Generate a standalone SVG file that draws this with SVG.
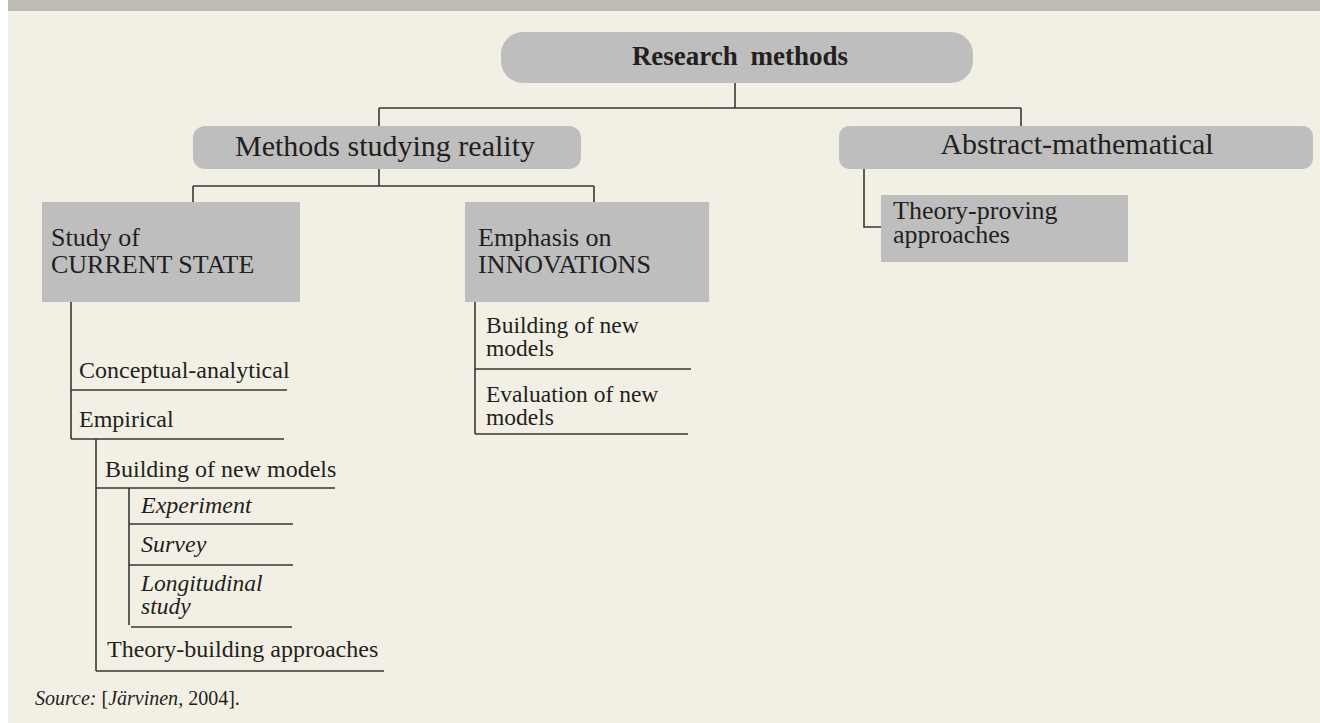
<svg xmlns="http://www.w3.org/2000/svg" width="1320" height="723" viewBox="0 0 1320 723">
<style>
.box{fill:#BEBEBE}
.ln{stroke:#3a3734;stroke-width:1.6;fill:none}
.t{font-family:"Liberation Serif","Times New Roman",serif;fill:#231F20}
.b{font-weight:bold}
.i{font-style:italic}
</style>
<rect x="0" y="0" width="1320" height="723" fill="#FFFFFF"/>
<rect x="8" y="0" width="1312" height="723" fill="#F2EFE4"/>
<rect x="8" y="0" width="1312" height="11" fill="#BDBCB3"/>

<g id="connectors" class="ln">
<path d="M735 83V108M379 108H1021M379 108V126M1021 108V126"/>
<path d="M379 169V186M193 186H594M193 186V202M594 186V202"/>
<path d="M864 169V227H881"/>
<path d="M71 302V439M71 390H287M71 439H284"/>
<path d="M96 439V671M96 488H335M96 671H384"/>
<path d="M129 488V625M129 524H293M129 565H293M131 627H292"/>
<path d="M475 302V434M475 369H691M475 434H688"/>
</g>

<g id="research-methods">
<rect class="box" x="501" y="32" width="472" height="51" rx="22"/>
<text class="t b" x="740" y="65" font-size="27" text-anchor="middle" word-spacing="6">Research methods</text>
</g>
<g id="methods-studying-reality">
<rect class="box" x="193" y="126" width="388" height="43" rx="12"/>
<text class="t" x="385" y="156" font-size="30" text-anchor="middle">Methods studying reality</text>
</g>
<g id="abstract-mathematical">
<rect class="box" x="839" y="126" width="474" height="43" rx="10"/>
<text class="t" x="1077" y="154" font-size="30" text-anchor="middle">Abstract-mathematical</text>
</g>
<g id="theory-proving">
<rect class="box" x="881" y="195" width="247" height="67"/>
<text class="t" x="893" y="219" font-size="26">Theory-proving</text>
<text class="t" x="893" y="243" font-size="26">approaches</text>
</g>
<g id="study-current-state">
<rect class="box" x="42" y="202" width="258" height="100"/>
<text class="t" x="51" y="246" font-size="26">Study of</text>
<text class="t" x="51" y="273" font-size="26">CURRENT STATE</text>
</g>
<g id="emphasis-innovations">
<rect class="box" x="465" y="202" width="244" height="100"/>
<text class="t" x="478" y="246" font-size="26">Emphasis on</text>
<text class="t" x="478" y="273" font-size="26">INNOVATIONS</text>
</g>
<g id="innov-building">
<text class="t" x="486" y="333" font-size="23.5">Building of new</text>
<text class="t" x="486" y="356" font-size="23.5">models</text>
</g>
<g id="innov-evaluation">
<text class="t" x="486" y="402" font-size="23.5">Evaluation of new</text>
<text class="t" x="486" y="425" font-size="23.5">models</text>
</g>
<g id="conceptual-analytical">
<text class="t" x="79" y="378" font-size="24">Conceptual-analytical</text>
</g>
<g id="empirical">
<text class="t" x="79" y="427" font-size="24">Empirical</text>
</g>
<g id="building-new-models">
<text class="t" x="105" y="477" font-size="24">Building of new models</text>
</g>
<g id="experiment">
<text class="t i" x="141" y="513" font-size="24">Experiment</text>
</g>
<g id="survey">
<text class="t i" x="141" y="552" font-size="24">Survey</text>
</g>
<g id="longitudinal">
<text class="t i" x="141" y="591" font-size="23.5">Longitudinal</text>
<text class="t i" x="141" y="614" font-size="23.5">study</text>
</g>
<g id="theory-building">
<text class="t" x="107" y="657" font-size="24">Theory-building approaches</text>
</g>
<text class="t" x="35" y="705" font-size="20"><tspan class="i">Source:</tspan> [<tspan class="i">Järvinen</tspan>, 2004].</text>
</svg>
